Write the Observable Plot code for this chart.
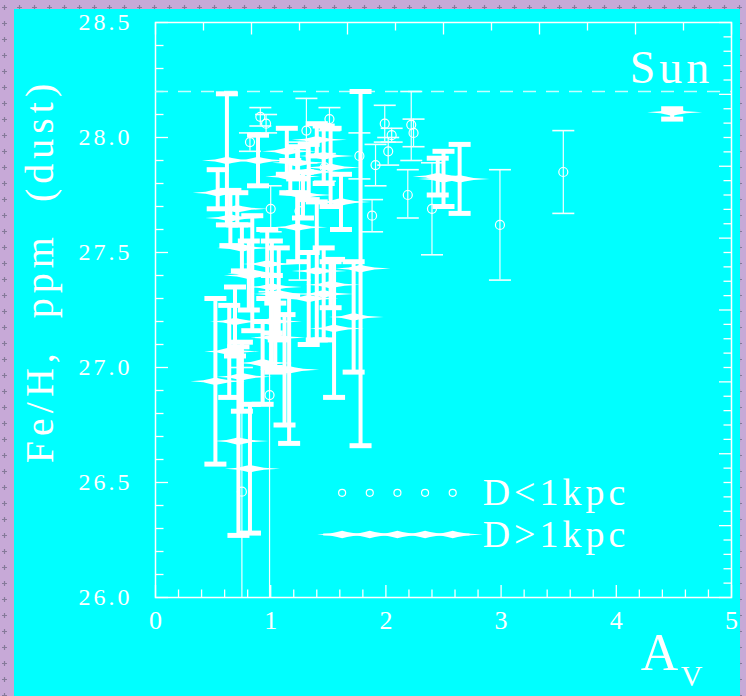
<!DOCTYPE html>
<html><head><meta charset="utf-8">
<script src="https://cdn.jsdelivr.net/npm/d3@7"></script>
<script src="https://cdn.jsdelivr.net/npm/@observablehq/plot@0.6"></script>
<style>
html,body{margin:0;padding:0;width:746px;height:696px;overflow:hidden;}
body{
  background-color:#c7a9d7;
  background-image:url("data:image/svg+xml,%3Csvg xmlns='http://www.w3.org/2000/svg' width='15' height='16'%3E%3Cpath d='M4.5 5v5M2 7.5h5' stroke='%23857a99' stroke-width='1.2'/%3E%3C/svg%3E"),
    radial-gradient(circle, #a98cbb 35%, transparent 45%);
  background-size:15px 16px, 2px 2px;
}
#wrap{position:absolute;left:14px;top:9px;width:726px;height:687px;background:#00ffff;}
</style></head><body><div id="wrap"></div>
<script>
// ---- D < 1 kpc (open circles, thin error bars)
const nearX    = [0.91, 0.96, 0.82, 1.31, 1.51, 1.47, 1.00, 1.25, 1.77, 1.91, 1.99, 2.02, 2.05, 2.22, 2.24, 2.19, 1.88, 2.40, 2.99, 3.54, 0.99, 0.75];
const nearY    = [28.09, 28.06, 27.98, 28.03, 28.08, 27.87, 27.69, 27.68, 27.92, 27.88, 28.06, 27.94, 28.01, 28.055, 28.02, 27.75, 27.66, 27.69, 27.62, 27.85, 26.88, 26.46];
const nearLow  = [28.05, 28.02, 27.94, 27.89, 28.03, 27.81, 27.59, 27.38, 27.82, 27.79, 27.98, 27.88, 27.98, 27.90, 27.96, 27.65, 27.59, 27.49, 27.38, 27.67, 25.90, 25.90];
const nearHigh = [28.13, 28.10, 28.02, 28.17, 28.13, 27.93, 27.79, 27.98, 28.02, 27.97, 28.14, 28.00, 28.04, 28.20, 28.08, 27.86, 27.73, 27.89, 27.86, 28.03, 27.33, 27.00];

// ---- D > 1 kpc (spiky markers, thick error bars)
const farX    = [0.62, 0.89, 0.54, 0.65, 0.71, 1.14, 1.17, 1.23, 1.40, 1.46, 1.52, 1.61, 1.23, 0.75, 0.84, 1.78, 2.45, 2.50, 2.64, 1.72, 1.52, 1.46, 1.55, 1.16, 0.81, 1.01, 0.69, 1.01, 1.04, 0.64, 0.93, 0.52, 0.75, 0.72, 0.82, 1.33, 1.12, 1.33, 1.28, 1.40, 1.07, 0.97];
const farY    = [27.90, 27.90, 27.76, 27.65, 27.69, 27.94, 27.83, 27.89, 27.99, 27.92, 27.87, 27.72, 27.61, 27.52, 27.41, 27.43, 27.83, 27.82, 27.82, 27.22, 27.36, 27.32, 27.17, 26.99, 27.40, 27.35, 27.20, 27.20, 27.13, 27.07, 27.02, 26.94, 26.96, 26.68, 26.56, 27.30, 26.99, 27.85, 27.75, 27.42, 27.32, 27.45];
const farLow  = [27.62, 27.79, 27.69, 27.53, 27.62, 27.84, 27.76, 27.82, 27.92, 27.80, 27.70, 27.60, 27.46, 27.42, 27.16, 26.66, 27.75, 27.70, 27.67, 26.98, 27.26, 27.12, 26.87, 26.67, 27.25, 27.15, 27.05, 27.00, 26.98, 26.87, 26.84, 26.58, 26.81, 26.27, 26.28, 27.10, 26.75, 27.73, 27.65, 27.12, 27.12, 27.30];
const farHigh = [28.19, 28.01, 27.86, 27.77, 27.76, 28.04, 27.90, 27.96, 28.06, 28.05, 28.04, 27.84, 27.76, 27.62, 27.66, 28.20, 27.91, 27.94, 27.97, 27.46, 27.46, 27.52, 27.47, 27.31, 27.55, 27.55, 27.35, 27.40, 27.28, 27.27, 27.20, 27.30, 27.11, 27.09, 26.84, 27.50, 27.23, 27.97, 27.85, 27.72, 27.52, 27.60];

// ---- Sun
const sunX = [4.485], sunY = [28.11], sunLow = [28.08], sunHigh = [28.125];

// ---- axes / annotations
const yTickLabels = ["26.0", "26.5", "27.0", "27.5", "28.0", "28.5"];
const xTickLabels = ["0", "1", "2", "3", "4", "5"];
const dashLevel = [28.2];
const legendLabels = ["D<1kpc", "D>1kpc"];

const near = nearX.map((x, i) => ({x, y: nearY[i], lo: nearLow[i], hi: nearHigh[i]}));
const far = farX.map((x, i) => ({x, y: farY[i], lo: farLow[i], hi: farHigh[i]}));
const sun = sunX.map((x, i) => ({x, y: sunY[i], lo: sunLow[i], hi: sunHigh[i]}));

const legend = {rowY: [26.455, 26.274], sampleX: [1.62, 1.86, 2.10, 2.34, 2.58], lineX: [1.46, 2.73], textX: 2.84};

// custom symbols
const hLine = L => ({draw(c) { c.moveTo(-L / 2, 0); c.lineTo(L / 2, 0); }});
const tick = (dx, dy) => ({draw(c) { c.moveTo(0, 0); c.lineTo(dx, dy); }});
const capThick = {draw(c) { c.rect(-11, -2.5, 22, 5); }};
const spike = {draw(c) {
  c.moveTo(-25, 0); c.lineTo(-12, -1); c.lineTo(-5, -2.6); c.lineTo(0, -3.8); c.lineTo(5, -2.6); c.lineTo(14, -1); c.lineTo(30, 0);
  c.lineTo(14, 1); c.lineTo(5, 2.6); c.lineTo(0, 3.8); c.lineTo(-5, 2.6); c.lineTo(-12, 1); c.closePath();
}};

const yMajorT = d3.range(0, 6).map(i => 26 + i * 0.5);
const yMinorT = d3.range(0, 26).map(i => 26 + i * 0.1).filter((v, i) => i % 5 !== 0);
const xMajorT = d3.range(0, 6);
const xMinorT = d3.range(0, 26).map(i => i * 0.2).filter((v, i) => i % 5 !== 0);
const topT = d3.range(0, 13).map(k => ({v: 5 - k * 5 / 12, major: k % 2 === 0}));
const rightT = d3.range(0, 41).map(k => ({v: 26 + k * 2.5 / 40, major: k % 5 === 0}));

const W = "white";
const plot = Plot.plot({
  width: 726, height: 687,
  marginLeft: 141, marginRight: 9, marginTop: 13, marginBottom: 99,
  style: {background: "transparent", fontFamily: "'Liberation Serif', serif", overflow: "visible"},
  x: {domain: [0, 5], axis: null},
  y: {domain: [26, 28.5], axis: null},
  marks: [
    Plot.frame({stroke: W, strokeWidth: 1.5}),
    // inward ticks
    Plot.dot(yMinorT, {y: d => d, frameAnchor: "left", symbol: tick(8, 0), stroke: W, fill: "none", strokeWidth: 1.3}),
    Plot.dot(yMajorT, {y: d => d, frameAnchor: "left", symbol: tick(12.5, 0), stroke: W, fill: "none", strokeWidth: 1.3}),
    Plot.dot(xMinorT, {x: d => d, frameAnchor: "bottom", symbol: tick(0, -8), stroke: W, fill: "none", strokeWidth: 1.3}),
    Plot.dot(xMajorT, {x: d => d, frameAnchor: "bottom", symbol: tick(0, -12.5), stroke: W, fill: "none", strokeWidth: 1.3}),
    Plot.dot(topT, {x: "v", frameAnchor: "top", symbol: d => d.major ? tick(0, 12) : tick(0, 8), stroke: W, fill: "none", strokeWidth: 1.3}),
    Plot.dot(rightT.filter(d => d.major), {y: "v", frameAnchor: "right", symbol: tick(-12.5, 0), stroke: W, fill: "none", strokeWidth: 1.3}),
    Plot.dot(rightT.filter(d => !d.major), {y: "v", frameAnchor: "right", symbol: tick(-8, 0), stroke: W, fill: "none", strokeWidth: 1.3}),
    // solar level
    Plot.ruleY(dashLevel, {stroke: "#c4ffff", strokeWidth: 1.5, strokeDasharray: "13,10"}),
    // D < 1 kpc
    Plot.ruleX(near, {x: "x", y1: "lo", y2: "hi", stroke: "#f2ffff", strokeWidth: 1.2, clip: true}),
    Plot.dot(near, {x: "x", y: "hi", symbol: hLine(22), stroke: "#f2ffff", fill: "none", strokeWidth: 1.6, clip: true}),
    Plot.dot(near, {x: "x", y: "lo", symbol: hLine(22), stroke: "#f2ffff", fill: "none", strokeWidth: 1.6, clip: true}),
    Plot.dot(near, {x: "x", y: "y", r: 4.5, stroke: W, fill: "none", strokeWidth: 1.2}),
    // D > 1 kpc
    Plot.ruleX(far, {x: "x", y1: "lo", y2: "hi", stroke: W, strokeWidth: 4, clip: true}),
    Plot.dot(far, {x: "x", y: "hi", symbol: capThick, fill: W, stroke: "none", clip: true}),
    Plot.dot(far, {x: "x", y: "lo", symbol: capThick, fill: W, stroke: "none", clip: true}),
    Plot.dot(far, {x: "x", y: "y", symbol: spike, fill: W, stroke: "none"}),
    // Sun
    Plot.ruleX(sun, {x: "x", y1: "lo", y2: "hi", stroke: W, strokeWidth: 4}),
    Plot.dot(sun, {x: "x", y: "hi", symbol: capThick, fill: W, stroke: "none"}),
    Plot.dot(sun, {x: "x", y: "lo", symbol: capThick, fill: W, stroke: "none"}),
    Plot.dot(sun, {x: "x", y: "y", symbol: spike, fill: W, stroke: "none"}),
    // tick labels
    Plot.text(yTickLabels, {y: d => +d, text: d => d, frameAnchor: "left", dx: -50, fill: W, fontSize: 24, textAnchor: "middle"}),
    Plot.text(xTickLabels, {x: d => +d, text: d => d, frameAnchor: "bottom", dy: 31, fill: W, fontSize: 26, textAnchor: "middle"}),
    // axis titles
    Plot.text(["Fe/H,\u00a0\u00a0ppm\u00a0\u00a0(dust)"], {frameAnchor: "left", dx: -115, dy: -39, rotate: -90, fontSize: 40, fill: W, textAnchor: "middle"}),
    Plot.text(["A"], {frameAnchor: "bottom-right", dx: -72, dy: 72, fontSize: 52, fill: W, textAnchor: "middle"}),
    Plot.text(["V"], {frameAnchor: "bottom-right", dx: -40, dy: 88, fontSize: 30, fill: W, textAnchor: "middle"}),
    Plot.text(["Sun"], {frameAnchor: "top-right", dx: -60, dy: 28, fontSize: 46, fill: W, textAnchor: "middle"}),
    // legend
    Plot.dot(legend.sampleX, {x: d => d, y: () => legend.rowY[0], r: 3.5, stroke: W, fill: "none", strokeWidth: 1.2}),
    Plot.ruleY([legend.rowY[1]], {x1: () => legend.lineX[0], x2: () => legend.lineX[1], stroke: W, strokeWidth: 2}),
    Plot.dot(legend.sampleX, {x: d => d, y: () => legend.rowY[1], symbol: spike, fill: W, stroke: "none"}),
    Plot.text(legendLabels, {x: () => legend.textX, y: (d, i) => legend.rowY[i], text: d => d, textAnchor: "start", fontSize: 38, fill: W})
  ]
});
plot.querySelectorAll("text").forEach(t => {
  const s = t.textContent;
  let ls = 0;
  if (/^\d+\.\d$/.test(s)) ls = 3;
  else if (s.startsWith("Fe")) ls = 5;
  else if (s === "Sun") ls = 4;
  else if (s.startsWith("D")) ls = 4;
  if (ls) t.style.letterSpacing = ls + "px";
});
document.getElementById("wrap").appendChild(plot);
</script></body></html>
